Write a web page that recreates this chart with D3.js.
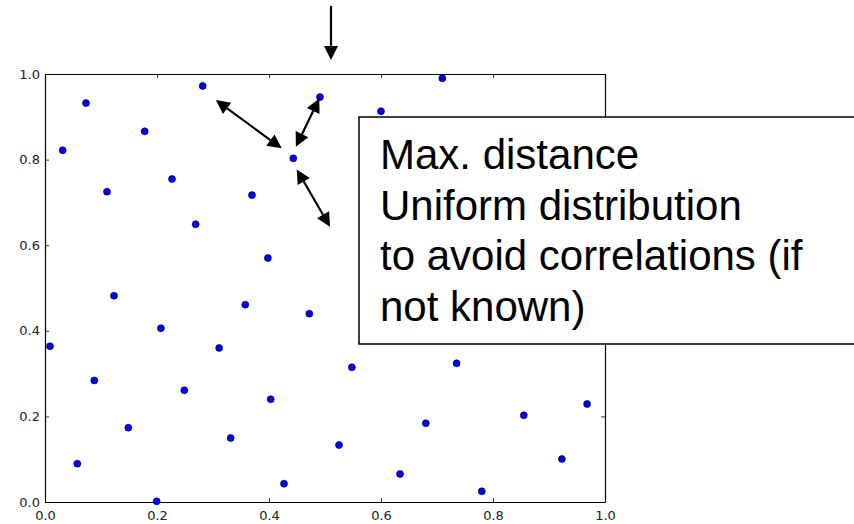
<!DOCTYPE html>
<html>
<head>
<meta charset="utf-8">
<script src="https://cdn.jsdelivr.net/npm/d3@7"></script>
<style>
  html, body { margin: 0; padding: 0; background: #fff; }
  svg { display: block; }
</style>
</head>
<body>
<svg id="chart" width="854" height="524"></svg>
<script>
// ---- data ----
const xValues = [0.0316, 0.0732, 0.1107, 0.178, 0.2268, 0.2816, 0.269, 0.3696, 0.4434, 0.398,
                 0.7095, 0.491, 0.600,
                 0.0089, 0.1232, 0.088, 0.207, 0.0577, 0.1488, 0.1994, 0.2488, 0.311, 0.3577, 0.403, 0.3315, 0.4268, 0.472,
                 0.548, 0.735, 0.525, 0.680, 0.634, 0.780, 0.855, 0.923, 0.968];
const yValues = [0.822, 0.932, 0.725, 0.866, 0.7547, 0.972, 0.649, 0.717, 0.803, 0.570,
                 0.990, 0.946, 0.913,
                 0.364, 0.482, 0.284, 0.406, 0.0895, 0.1737, 0.0016, 0.261, 0.360, 0.461, 0.240, 0.1495, 0.0428, 0.440,
                 0.3146, 0.324, 0.133, 0.184, 0.0654, 0.025, 0.2025, 0.1005, 0.229];
const tickValues = [0.0, 0.2, 0.4, 0.6, 0.8, 1.0];
const annotationLines = ["Max. distance", "Uniform distribution", "to avoid correlations (if", "not known)"];
// arrows in data coordinates
const arrowStartX = [0.305, 0.448, 0.4495, 0.5107];
const arrowStartY = [0.939, 0.830, 0.777, 1.159];
const arrowEndX   = [0.4227, 0.4898, 0.509, 0.5107];
const arrowEndY   = [0.8264, 0.943, 0.643, 1.033];
const arrowDouble = [true, true, true, false];

// ---- layout ----
const svg = d3.select("#chart");
const mLeft = 45, mRight = 605, mTop = 74, mBottom = 502;
const x = d3.scaleLinear().domain([0, 1]).range([mLeft, mRight]);
const y = d3.scaleLinear().domain([0, 1]).range([mBottom, mTop]);

const fmt = d3.format(".1f");
const tickFont = "'DejaVu Sans', sans-serif";

const gB = svg.append("g").attr("transform", `translate(0,${mBottom})`)
  .call(d3.axisBottom(x).tickValues(tickValues).tickFormat(fmt).tickSizeInner(-4).tickSizeOuter(0).tickPadding(6));
const gT = svg.append("g").attr("transform", `translate(0,${mTop})`)
  .call(d3.axisTop(x).tickValues(tickValues).tickFormat("").tickSizeInner(-4).tickSizeOuter(0));
const gL = svg.append("g").attr("transform", `translate(${mLeft},0)`)
  .call(d3.axisLeft(y).tickValues(tickValues).tickFormat(fmt).tickSizeInner(-4).tickSizeOuter(0).tickPadding(5));
const gR = svg.append("g").attr("transform", `translate(${mRight},0)`)
  .call(d3.axisRight(y).tickValues(tickValues).tickFormat("").tickSizeInner(-4).tickSizeOuter(0));

[gB, gT, gL, gR].forEach(g => {
  g.select(".domain").attr("stroke", "#000").attr("stroke-width", 1.2);
  g.selectAll(".tick line").attr("stroke", "#000").attr("stroke-width", 0.8);
  g.selectAll(".tick text").attr("fill", "#222").style("font-family", tickFont).style("font-size", "13px");
});
gB.selectAll(".tick text").attr("dy", "0.9em");

// points
svg.append("g").selectAll("circle")
  .data(xValues.map((v, i) => [v, yValues[i]]))
  .join("circle")
  .attr("cx", d => x(d[0]))
  .attr("cy", d => y(d[1]))
  .attr("r", 3.5)
  .attr("fill", "#0000ff")
  .attr("stroke", "#000")
  .attr("stroke-width", 0.6);

// arrows
function head(tipX, tipY, fromX, fromY, len, half) {
  const dx = tipX - fromX, dy = tipY - fromY;
  const L = Math.hypot(dx, dy);
  const ux = dx / L, uy = dy / L;
  const bx = tipX - ux * len, by = tipY - uy * len;
  const px = -uy * half, py = ux * half;
  return { pts: [[tipX, tipY], [bx + px, by + py], [bx - px, by - py]], base: [bx, by] };
}
const ag = svg.append("g");
arrowStartX.forEach((_, i) => {
  const x1 = x(arrowStartX[i]), y1 = y(arrowStartY[i]);
  const x2 = x(arrowEndX[i]), y2 = y(arrowEndY[i]);
  const len = 14, half = 7;
  const h2 = head(x2, y2, x1, y1, len, half);
  let sx = x1, sy = y1;
  if (arrowDouble[i]) {
    const h1 = head(x1, y1, x2, y2, len, half);
    ag.append("polygon").attr("points", h1.pts.map(p => p.join(",")).join(" ")).attr("fill", "#000");
    sx = h1.base[0]; sy = h1.base[1];
  }
  ag.append("polygon").attr("points", h2.pts.map(p => p.join(",")).join(" ")).attr("fill", "#000");
  ag.append("line").attr("x1", sx).attr("y1", sy).attr("x2", h2.base[0]).attr("y2", h2.base[1])
    .attr("stroke", "#000").attr("stroke-width", 2.2);
});

// annotation box
const box = svg.append("g");
box.append("rect").attr("x", 359).attr("y", 117).attr("width", 520).attr("height", 227)
  .attr("fill", "#fff").attr("stroke", "#000").attr("stroke-width", 1.5);
box.selectAll("text").data(annotationLines).join("text")
  .attr("x", 380)
  .attr("y", (d, i) => 169 + i * 50.5)
  .attr("fill", "#000")
  .style("font-family", "'Liberation Sans', Arial, sans-serif")
  .style("font-size", "42px")
  .text(d => d);
</script>
</body>
</html>
